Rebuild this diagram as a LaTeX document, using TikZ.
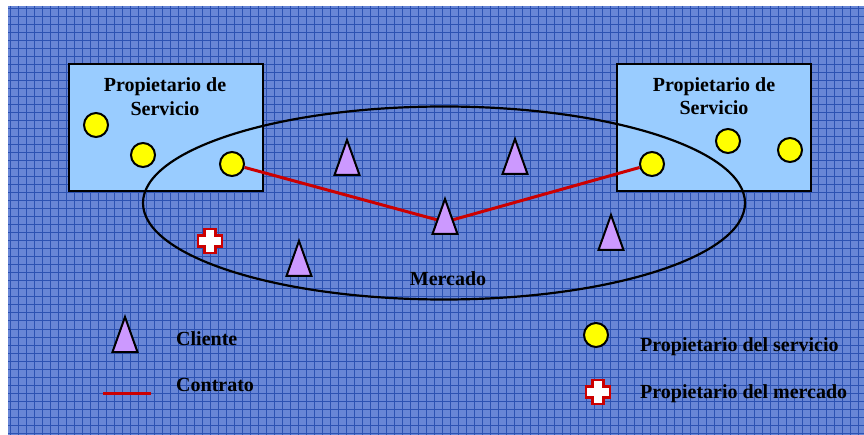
\documentclass[tikz,border=0pt]{standalone}
\usepackage{fontspec}
\setmainfont{Liberation Serif}
\usetikzlibrary{shapes.geometric}
\definecolor{bgblue}{RGB}{104,134,214}
\definecolor{gridblue}{RGB}{44,82,178}
\definecolor{boxblue}{RGB}{153,204,255}
\definecolor{dotyellow}{RGB}{255,255,0}
\definecolor{trililac}{RGB}{204,153,255}
\definecolor{contractred}{RGB}{204,0,0}
\tikzset{
  owner/.style={circle, draw=black, line width=2pt, fill=dotyellow, minimum size=24pt, inner sep=0pt},
  ownerbox/.style={draw=black, line width=2.4pt, fill=boxblue},
  market/.style={draw=black, line width=2.2pt},
  contract/.style={draw=contractred, line width=3pt},
  lbl/.style={font=\fontsize{20}{23}\selectfont\bfseries, text=black, inner sep=0pt},
  tristyle/.style={draw=black, line width=2pt, fill=trililac, line join=miter},
  crossstyle/.style={draw=contractred, line width=2.6pt, fill=white},
  cliente/.pic={\path[tristyle] (0,0) -- (12.5,35) -- (-12.5,35) -- cycle;},
  dueno/.pic={\path[crossstyle] (-5.5,-12) -- (5.5,-12) -- (5.5,-5.5) -- (12,-5.5) -- (12,5.5) -- (5.5,5.5) -- (5.5,12) -- (-5.5,12) -- (-5.5,5.5) -- (-12,5.5) -- (-12,-5.5) -- (-5.5,-5.5) -- cycle;}
}
\begin{document}
\begin{tikzpicture}[x=1pt,y=-1pt]
\useasboundingbox (0,0) rectangle (864,435);
\fill[white] (0,0) rectangle (864,435);
% patterned background
\fill[bgblue] (8,6) rectangle (864,435);
\begin{scope}
\clip (8,6) rectangle (864,435);
\foreach \i in {0,...,108} {\draw[gridblue, line width=1pt] (10+8*\i,6) -- (10+8*\i,435);}
\foreach \j in {0,...,54} {\draw[gridblue, line width=1pt] (8,9+8*\j) -- (864,9+8*\j);}
\end{scope}
% service owner boxes
\node[ownerbox, minimum width=194pt, minimum height=127pt, anchor=north west] (boxL) at (68,63) {};
\node[ownerbox, minimum width=194pt, minimum height=127pt, anchor=north west] (boxR) at (616,63) {};
\node[lbl, anchor=base] (tL1) at (165,92) {Propietario de};
\node[lbl, anchor=base] (tL2) at (165,116) {Servicio};
\node[lbl, anchor=base] (tR1) at (714,92) {Propietario de};
\node[lbl, anchor=base] (tR2) at (714,115) {Servicio};
% market ellipse
\node[market, ellipse, minimum width=602pt, minimum height=193pt, inner sep=0pt] (mercado) at (444,203) {};
\node[lbl, anchor=base] (mlbl) at (448,286) {Mercado};
% contract endpoint
\coordinate (tc) at (445,222);
% owners
\node[owner] (oL1) at (96,125) {};
\node[owner] (oL2) at (143,155) {};
\node[owner] (oL3) at (232,164) {};
\node[owner] (oR1) at (652,164) {};
\node[owner] (oR2) at (728,141) {};
\node[owner] (oR3) at (790,150) {};
% contracts
\draw[contract] (oL3) -- (tc);
\draw[contract] (oR1) -- (tc);
% clients
\pic at (347,140) {cliente};
\pic at (515,139) {cliente};
\pic at (445,199) {cliente};
\pic at (299,241) {cliente};
\pic at (611,215) {cliente};
% market owner
\pic at (210,241) {dueno};
% legend
\pic at (125,317) {cliente};
\node[lbl, anchor=base west] (lgC) at (176,345) {Cliente};
\coordinate (lgl1) at (103,393);
\coordinate (lgl2) at (151,393);
\draw[contract] (lgl1) -- (lgl2);
\node[lbl, anchor=base west] (lgK) at (176,391) {Contrato};
\node[owner] (lgO) at (596,335) {};
\node[lbl, anchor=base west] (lgP) at (640,352) {Propietario del servicio};
\pic at (598,392) {dueno};
\node[lbl, anchor=base west] (lgM) at (640,398) {Propietario del mercado};
\end{tikzpicture}
\end{document}
